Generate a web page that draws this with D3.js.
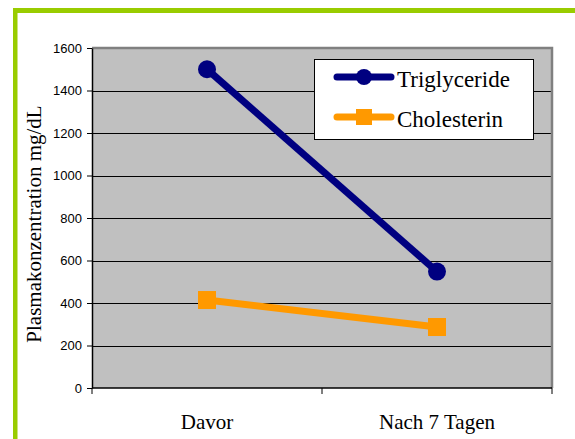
<!DOCTYPE html>
<html>
<head>
<meta charset="utf-8">
<script src="https://cdn.jsdelivr.net/npm/d3@7"></script>
<style>
  html, body { margin: 0; padding: 0; background: #ffffff; }
  svg { display: block; }
  .serif { font-family: "Liberation Serif", "Times New Roman", Times, serif; }
  .sans { font-family: "Liberation Sans", Arial, Helvetica, sans-serif; }
</style>
</head>
<body>
<script>
// Chart data
const categories = ["Davor", "Nach 7 Tagen"];
const triglyceride = [1500, 548];
const cholesterin = [414, 287];
const seriesNames = ["Triglyceride", "Cholesterin"];
const yTicks = [0, 200, 400, 600, 800, 1000, 1200, 1400, 1600];
const yTitle = "Plasmakonzentration mg/dL";

const W = 575, H = 439;
const plot = { left: 92, right: 552, top: 48, bottom: 388 };

const svg = d3.select("body").append("svg")
  .attr("width", W).attr("height", H);

// green frame (top and left edges)
svg.append("rect").attr("x", 13).attr("y", 8).attr("width", W - 13).attr("height", 5).attr("fill", "#99cc00");
svg.append("rect").attr("x", 13).attr("y", 8).attr("width", 4.5).attr("height", H - 8).attr("fill", "#99cc00");

const x = d3.scaleBand().domain(categories).range([plot.left, plot.right]);
const y = d3.scaleLinear().domain([0, 1600]).range([plot.bottom, plot.top]);
const cx = d => x(d) + x.bandwidth() / 2;

// plot background
svg.append("rect")
  .attr("x", plot.left).attr("y", plot.top)
  .attr("width", plot.right - plot.left).attr("height", plot.bottom - plot.top)
  .attr("fill", "#c0c0c0");

// horizontal gridlines
svg.append("g").selectAll("line")
  .data(yTicks.filter(t => t > 0 && t < 1600))
  .join("line")
  .attr("x1", plot.left).attr("x2", plot.right)
  .attr("y1", d => Math.round(y(d)) + 0.5).attr("y2", d => Math.round(y(d)) + 0.5)
  .attr("stroke", "#000").attr("stroke-width", 1);

// grey frame at top and right of the plot area
svg.append("path")
  .attr("d", `M${plot.left},${plot.top} H${plot.right} V${plot.bottom}`)
  .attr("fill", "none").attr("stroke", "#808080").attr("stroke-width", 2.5);

// y axis
const yAxis = svg.append("g")
  .attr("transform", `translate(${plot.left},0)`)
  .call(d3.axisLeft(y).tickValues(yTicks).tickFormat(d3.format("d"))
    .tickSize(5).tickSizeOuter(0).tickPadding(5));
yAxis.attr("font-family", null).attr("font-size", null);
yAxis.select(".domain").attr("stroke", "#000").attr("stroke-width", 1.5);
yAxis.selectAll(".tick line").attr("stroke", "#000");
yAxis.selectAll("text")
  .attr("class", "sans")
  .attr("font-size", 13).attr("fill", "#000");

// x axis with ticks at the category boundaries
const xAxisG = svg.append("g").attr("transform", `translate(0,${plot.bottom})`);
xAxisG.append("line")
  .attr("x1", plot.left).attr("x2", plot.right)
  .attr("y1", 0).attr("y2", 0)
  .attr("stroke", "#000").attr("stroke-width", 1.5);
const bounds = [plot.left, x(categories[1]), plot.right];
xAxisG.selectAll("line.tk").data(bounds).join("line")
  .attr("class", "tk")
  .attr("x1", d => d).attr("x2", d => d)
  .attr("y1", 0).attr("y2", 6)
  .attr("stroke", "#000").attr("stroke-width", 1);
xAxisG.selectAll("text").data(categories).join("text")
  .attr("class", "serif")
  .attr("x", d => cx(d)).attr("y", 41)
  .attr("text-anchor", "middle")
  .attr("font-size", 21).attr("fill", "#000")
  .text(d => d);

// y axis title
svg.append("text")
  .attr("class", "serif")
  .attr("transform", `translate(41,${(plot.top + plot.bottom) / 2 + 6}) rotate(-90)`)
  .attr("text-anchor", "middle")
  .attr("font-size", 21).attr("fill", "#000")
  .text(yTitle);

// series
const navy = "#000080", orange = "#ff9900";
const line = d3.line().x((d, i) => cx(categories[i])).y(d => y(d));

svg.append("path").datum(cholesterin)
  .attr("d", line).attr("fill", "none")
  .attr("stroke", orange).attr("stroke-width", 7);
svg.append("g").selectAll("rect").data(cholesterin).join("rect")
  .attr("x", (d, i) => cx(categories[i]) - 9).attr("y", d => y(d) - 9)
  .attr("width", 18).attr("height", 18).attr("fill", orange);

svg.append("path").datum(triglyceride)
  .attr("d", line).attr("fill", "none")
  .attr("stroke", navy).attr("stroke-width", 7);
svg.append("g").selectAll("circle").data(triglyceride).join("circle")
  .attr("cx", (d, i) => cx(categories[i])).attr("cy", d => y(d))
  .attr("r", 9).attr("fill", navy);

// legend
const lg = svg.append("g");
lg.append("rect")
  .attr("x", 314.5).attr("y", 59.5).attr("width", 219).attr("height", 80)
  .attr("fill", "#fff").attr("stroke", "#000").attr("stroke-width", 1);
const legendRows = [
  { name: seriesNames[0], color: navy, shape: "circle", yy: 77 },
  { name: seriesNames[1], color: orange, shape: "square", yy: 117 }
];
legendRows.forEach(r => {
  lg.append("line")
    .attr("x1", 337).attr("x2", 391).attr("y1", r.yy).attr("y2", r.yy)
    .attr("stroke", r.color).attr("stroke-width", 7).attr("stroke-linecap", "round");
  if (r.shape === "circle") {
    lg.append("circle").attr("cx", 364).attr("cy", r.yy).attr("r", 8).attr("fill", r.color);
  } else {
    lg.append("rect").attr("x", 356).attr("y", r.yy - 8).attr("width", 16).attr("height", 16).attr("fill", r.color);
  }
  lg.append("text")
    .attr("class", "serif")
    .attr("x", 397).attr("y", r.yy + 10)
    .attr("font-size", 23).attr("fill", "#000")
    .text(r.name);
});
</script>
</body>
</html>
